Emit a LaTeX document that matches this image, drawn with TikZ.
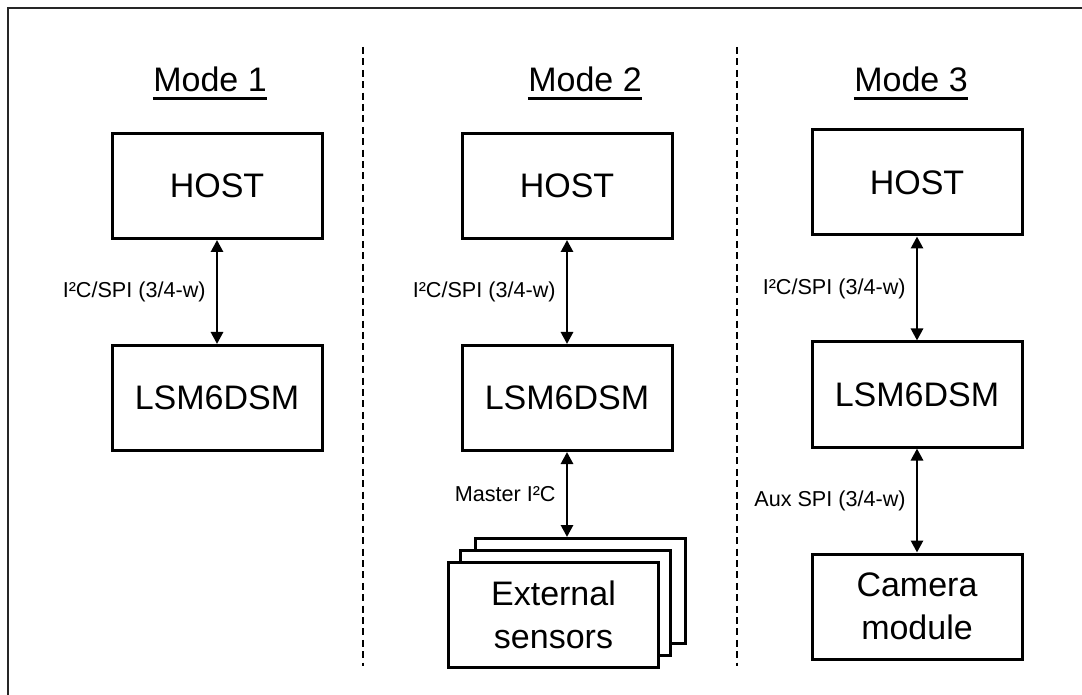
\documentclass[tikz,border=0pt]{standalone}
\usepackage{fontspec}
\setmainfont{Liberation Sans}
\usetikzlibrary{arrows.meta, positioning}
\tikzset{
    blockbox/.style={rectangle, draw=black, line width=1.5pt, fill=white, minimum width=105pt, minimum height=52.5pt, inner sep=0pt, align=center, font=\fontsize{17pt}{21.5pt}\selectfont},
    modetitle/.style={anchor=base, inner sep=0pt, font=\fontsize{17pt}{20pt}\selectfont},
    link/.style={{Triangle[length=6pt,width=6pt]}-{Triangle[length=6pt,width=6pt]}, line width=1.4pt},
    linklabel/.style={left, inner sep=5pt, font=\fontsize{10.8pt}{13pt}\selectfont},
    divider/.style={line width=0.8pt, dash pattern=on 3.5pt off 2.2pt},
    frame/.style={line width=1pt, draw=black!85}
}

\begin{document}
\begin{tikzpicture}[x=0.5pt, y=-0.5pt, node distance=52pt]
    \useasboundingbox (0,0) rectangle (1082,695);

    % Frame and separators
    \draw [frame] (8,695) -- (8,8) -- (1082,8);
    \draw [divider] (363,47) -- (363,666);
    \draw [divider] (737,47) -- (737,666);

    % Titles
    \node (title1) [modetitle] at (210,92) {Mode 1};
    \node (title2) [modetitle] at (585,92) {Mode 2};
    \node (title3) [modetitle] at (911,92) {Mode 3};
    \foreach \t in {title1, title2, title3}
        \draw [line width=1.5pt] ([yshift=-3.5pt]\t.base west) -- ([yshift=-3.5pt]\t.base east);

    % Mode 1
    \node (host1) [blockbox] at (217,186) {HOST};
    \node (lsm1) [blockbox, below=of host1] {LSM6DSM};

    % Mode 2
    \node (host2) [blockbox] at (567,186) {HOST};
    \node (lsm2) [blockbox, below=of host2] {LSM6DSM};
    \node (sens3) [blockbox] at (580.5,591) {};
    \node (sens2) [blockbox] at (565.5,602.5) {};
    \node (sens1) [blockbox] at (553.5,614.5) {External\\sensors};

    % Mode 3
    \node (host3) [blockbox] at (917,182.5) {HOST};
    \node (lsm3) [blockbox, below=of host3] {LSM6DSM};
    \node (cam) [blockbox, below=of lsm3] {Camera\\module};

    % Connecting
    \draw [link] (host1) -- node[linklabel] {I²C/SPI (3/4-w)} (lsm1);
    \draw [link] (host2) -- node[linklabel] {I²C/SPI (3/4-w)} (lsm2);
    \draw [link] (lsm2.south) -- node[linklabel] {Master I²C} (lsm2.south |- sens3.north);
    \draw [link] (host3) -- node[linklabel] {I²C/SPI (3/4-w)} (lsm3);
    \draw [link] (lsm3) -- node[linklabel] {Aux SPI (3/4-w)} (cam);

\end{tikzpicture}
\end{document}
